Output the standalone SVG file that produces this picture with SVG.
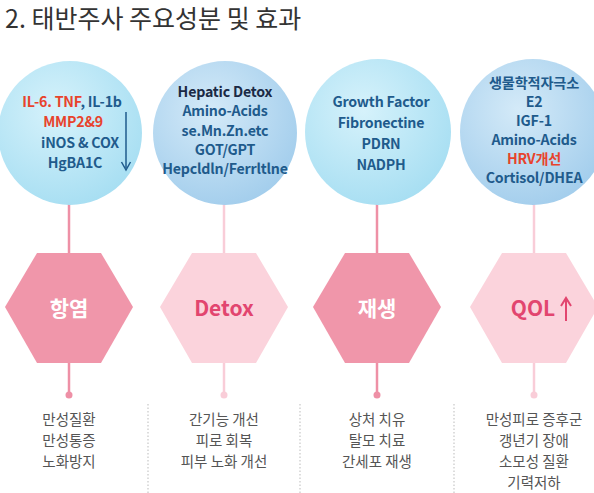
<svg xmlns="http://www.w3.org/2000/svg" width="594" height="493" viewBox="0 0 594 493">
<defs>
<radialGradient id="gc" cx="0.4" cy="0.35" r="0.7">
<stop offset="0" stop-color="#d6f2fb"/>
<stop offset="1" stop-color="#a6def2"/>
</radialGradient>
<radialGradient id="gb" cx="0.4" cy="0.35" r="0.7">
<stop offset="0" stop-color="#d4eaf8"/>
<stop offset="1" stop-color="#a2cdec"/>
</radialGradient>
<style>
.t{font-family:"Noto Sans CJK KR","Noto Sans",sans-serif}
.ct{font-family:"Noto Sans CJK KR","Noto Sans",sans-serif;font-size:14.2px;letter-spacing:-0.2px;font-weight:bold;fill:#1f5b8c;text-anchor:middle}
.red{fill:#e8432c}
.hd{fill:#f096aa}
.hl{fill:#fbd3dc}
.ld{stroke:#ee90a6;stroke-width:2.5}
.ll{stroke:#f9cdd8;stroke-width:2.5}
.ht{font-family:"Noto Sans CJK KR","Noto Sans",sans-serif;font-size:21px;font-weight:bold;text-anchor:middle}
.bt{font-family:"Noto Sans CJK KR",sans-serif;font-size:14.5px;fill:#555;text-anchor:middle}
.sep{stroke:#bbb;stroke-width:1;stroke-dasharray:1.5 2}
</style>
</defs>
<rect width="594" height="493" fill="#fff"/>
<text x="5" y="28" class="t" font-size="25" fill="#333">2. 태반주사 주요성분 및 효과</text>

<g id="connectors">
<line class="ld" x1="69" y1="204" x2="69" y2="254"/>
<line class="ld" x1="69" y1="362" x2="69" y2="395"/>
<circle cx="69" cy="395" r="3.5" fill="#ee90a6"/>
<line class="ll" x1="224" y1="204" x2="224" y2="254"/>
<line class="ll" x1="224" y1="362" x2="224" y2="395"/>
<circle cx="224" cy="395" r="3.5" fill="#f9cdd8"/>
<line class="ld" x1="377" y1="204" x2="377" y2="254"/>
<line class="ld" x1="377" y1="362" x2="377" y2="395"/>
<circle cx="377" cy="395" r="3.5" fill="#ee90a6"/>
<line class="ll" x1="534" y1="204" x2="534" y2="254"/>
<line class="ll" x1="534" y1="362" x2="534" y2="395"/>
<circle cx="534" cy="395" r="3.5" fill="#f9cdd8"/>
</g>

<g id="separators">
<line class="sep" x1="148" y1="404" x2="148" y2="493"/>
<line class="sep" x1="300" y1="404" x2="300" y2="493"/>
<line class="sep" x1="454" y1="404" x2="454" y2="493"/>
</g>

<g id="circle1">
<circle cx="70" cy="133" r="72" fill="url(#gc)"/>
<text class="ct" x="72" y="107"><tspan class="red">IL-6. TNF</tspan>, IL-1b</text>
<text class="ct red" x="73" y="127">MMP2&amp;9</text>
<text class="ct" x="80" y="148">iNOS &amp; COX</text>
<text class="ct" x="75" y="168">HgBA1C</text>
<line x1="126" y1="112" x2="126" y2="168" stroke="#1f5b8c" stroke-width="1.5"/>
<path d="M121.5 162 L126 170 L130.5 162" fill="none" stroke="#1f5b8c" stroke-width="1.5"/>
</g>

<g id="circle2">
<circle cx="225" cy="133" r="72" fill="url(#gb)"/>
<text class="ct" x="225" y="97" style="fill:#1b2a45">Hepatic Detox</text>
<text class="ct" x="225" y="116">Amino-Acids</text>
<text class="ct" x="225" y="136">se.Mn.Zn.etc</text>
<text class="ct" x="225" y="155">GOT/GPT</text>
<text class="ct" x="225" y="174">Hepcldln/Ferrltlne</text>
</g>

<g id="circle3">
<circle cx="378" cy="132" r="73" fill="url(#gc)"/>
<text class="ct" x="381" y="107">Growth Factor</text>
<text class="ct" x="381" y="128">Fibronectine</text>
<text class="ct" x="381" y="149">PDRN</text>
<text class="ct" x="381" y="170">NADPH</text>
</g>

<g id="circle4">
<circle cx="533" cy="132" r="73" fill="url(#gb)"/>
<text class="ct" x="534" y="88">생물학적자극소</text>
<text class="ct" x="534" y="107">E2</text>
<text class="ct" x="534" y="126">IGF-1</text>
<text class="ct" x="534" y="145">Amino-Acids</text>
<text class="ct red" x="534" y="164">HRV개선</text>
<text class="ct" x="534" y="183">Cortisol/DHEA</text>
</g>

<g id="hex1">
<polygon class="hd" points="5,307 37,253 101,253 133,307 101,363 37,363"/>
<text class="ht" x="69" y="316" fill="#fff">항염</text>
</g>
<g id="hex2">
<polygon class="hl" points="160,307 192,253 256,253 288,307 256,363 192,363"/>
<text class="ht" x="224" y="316" fill="#e2456f">Detox</text>
</g>
<g id="hex3">
<polygon class="hd" points="313,307 345,253 409,253 441,307 409,363 345,363"/>
<text class="ht" x="377" y="316" fill="#fff">재생</text>
</g>
<g id="hex4">
<polygon class="hl" points="470,307 502,253 566,253 598,307 566,363 502,363"/>
<text class="ht" x="533" y="316" fill="#e2456f">QOL</text>
<line x1="566" y1="300" x2="566" y2="321" stroke="#e2456f" stroke-width="2"/>
<path d="M561 306 L566 298 L571 306" fill="none" stroke="#e2456f" stroke-width="2"/>
</g>

<g id="effects1">
<text class="bt" x="69" y="425">만성질환</text>
<text class="bt" x="69" y="446">만성통증</text>
<text class="bt" x="69" y="467">노화방지</text>
</g>
<g id="effects2">
<text class="bt" x="224" y="425">간기능 개선</text>
<text class="bt" x="224" y="446">피로 회복</text>
<text class="bt" x="224" y="467">피부 노화 개선</text>
</g>
<g id="effects3">
<text class="bt" x="377" y="425">상처 치유</text>
<text class="bt" x="377" y="446">탈모 치료</text>
<text class="bt" x="377" y="467">간세포 재생</text>
</g>
<g id="effects4">
<text class="bt" x="534" y="425">만성피로 증후군</text>
<text class="bt" x="534" y="446">갱년기 장애</text>
<text class="bt" x="534" y="467">소모성 질환</text>
<text class="bt" x="534" y="488">기력저하</text>
</g>
</svg>
